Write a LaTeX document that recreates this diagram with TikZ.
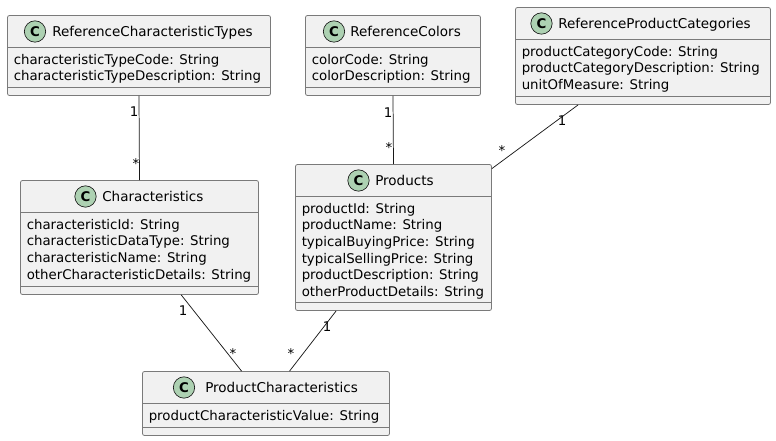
\documentclass[tikz,border=0pt]{standalone}
\usepackage{fontspec}
\setmainfont{DejaVu Sans}
\usetikzlibrary{positioning}

\definecolor{classfill}{HTML}{F1F1F1}
\definecolor{classline}{HTML}{7A7A7A}
\definecolor{spotfill}{HTML}{ADD1B2}
\definecolor{inkline}{HTML}{181818}

\tikzset{
  classbox/.style={draw=classline, fill=classfill, rounded corners=1.5pt, line width=.6pt, inner sep=0pt},
  classrule/.style={draw=classline, line width=.6pt},
  classspot/.style={circle, draw=inkline, fill=spotfill, line width=.5pt, minimum size=16pt, inner sep=0pt, font=\fontsize{10}{12}\selectfont\bfseries},
  classtitle/.style={font=\fontsize{10.15}{12}\selectfont, text=black, inner sep=0pt, anchor=base west},
  classattrs/.style={font=\fontsize{10}{12.45}\selectfont, text=black, inner sep=0pt, anchor=north west, align=left},
  assoc/.style={draw=inkline, line width=.55pt},
  mult/.style={font=\fontsize{10}{12}\selectfont, text=black, inner sep=0pt}
}

%% #1 name, #2 left, #3 top, #4 right, #5 bottom, #6 rule under title, #7 title x, #8 spot x, #9 attributes
\newcommand{\umlclass}[9]{
  \node[classbox, minimum width={(#4-#2)*.75pt}, minimum height={(#5-#3)*.75pt}] (#1) at ({(#2+#4)/2},{(#3+#5)/2}) {};
  \draw[classrule] (#2,#6) -- (#4,#6);
  \draw[classrule] (#2,{#5-8}) -- (#4,{#5-8});
  \node[classspot] (#1spot) at (#8,{#3+16}) {C};
  \node[classtitle] (#1title) at (#7,{#3+21}) {#1};
  \node[classattrs] (#1attrs) at ({#2+6},{#6+7}) {#9};
}

\begin{document}
\begin{tikzpicture}[x=.75pt,y=-.75pt]
  \useasboundingbox (0,0) rectangle (776,441);

  %% Top row
  \umlclass{ReferenceCharacteristicTypes}{7.5}{15.5}{270.5}{95.5}{47}{52}{35}{characteristicTypeCode: String\\characteristicTypeDescription: String}
  \umlclass{ReferenceColors}{305.5}{15.5}{480.5}{95.5}{47}{350}{334}{colorCode: String\\colorDescription: String}
  \umlclass{ReferenceProductCategories}{515.5}{7.5}{770.5}{104.5}{39}{558}{541.5}{productCategoryCode: String\\productCategoryDescription: String\\unitOfMeasure: String}

  %% Middle row
  \umlclass{Characteristics}{20.5}{180.5}{258.5}{294.5}{212}{102}{85.5}{characteristicId: String\\characteristicDataType: String\\characteristicName: String\\otherCharacteristicDetails: String}
  \umlclass{Products}{295.5}{164.5}{491.5}{310.5}{196}{375}{358.5}{productId: String\\productName: String\\typicalBuyingPrice: String\\typicalSellingPrice: String\\productDescription: String\\otherProductDetails: String}

  %% Bottom row
  \umlclass{ProductCharacteristics}{142.5}{371.5}{389.5}{435.5}{403}{205}{184}{productCharacteristicValue: String}

  %% Associations
  \draw[assoc] (ReferenceCharacteristicTypes.south) -- (Characteristics.north);
  \draw[assoc] (ReferenceColors.south) -- (Products.north);
  \draw[assoc] (ReferenceProductCategories.217) -- (Products.35.6);
  \draw[assoc] (Characteristics.-54) -- (ProductCharacteristics.127);
  \draw[assoc] (Products.232.4) -- (ProductCharacteristics.54.3);

  %% Multiplicities
  \node[mult] (typesone) at (134,112) {1};
  \node[mult] (typesmany) at (136,164) {*};
  \node[mult] (colorsone) at (388,113) {1};
  \node[mult] (colorsmany) at (389,148) {*};
  \node[mult] (categoriesone) at (562,121) {1};
  \node[mult] (categoriesmany) at (502,151) {*};
  \node[mult] (charsone) at (183,311) {1};
  \node[mult] (charsmany) at (233,354) {*};
  \node[mult] (productsone) at (327,327) {1};
  \node[mult] (productsmany) at (291,354) {*};
\end{tikzpicture}
\end{document}
